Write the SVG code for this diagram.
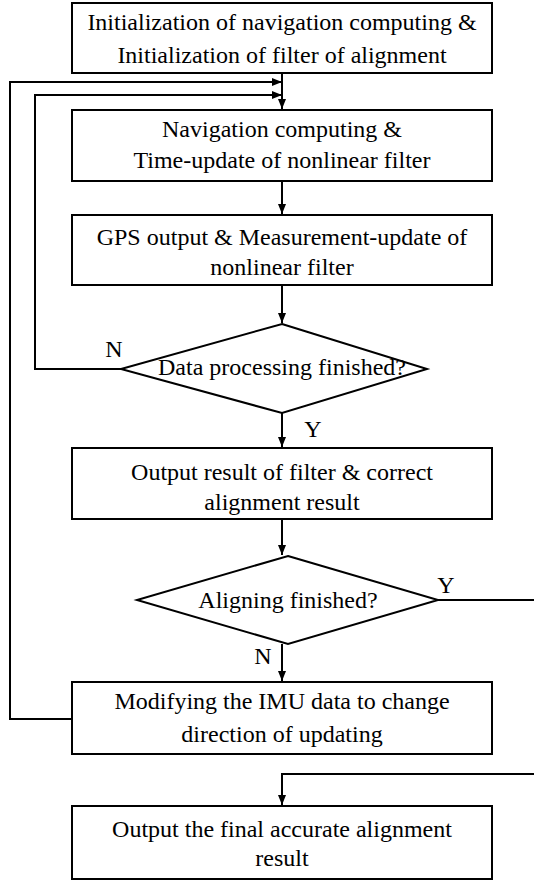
<svg xmlns="http://www.w3.org/2000/svg" width="534" height="881" viewBox="0 0 534 881">
<style>
.b{fill:#fff;stroke:#000;stroke-width:2}
.c{fill:none;stroke:#000;stroke-width:2}
.t{font-family:'Liberation Serif','Times New Roman','DejaVu Serif',serif;font-size:24px;fill:#000;text-anchor:middle}
</style>
<defs>
<marker id="a" viewBox="0 0 10 10" refX="10" refY="5" markerWidth="10" markerHeight="10" markerUnits="userSpaceOnUse" orient="auto">
<path d="M0,1 L10,5 L0,9 Z" fill="#000"/>
</marker>
</defs>
<g id="connectors">
<path class="c" d="M282,73 V109" marker-end="url(#a)"/>
<path class="c" d="M72,719 H10 V82 H282" marker-end="url(#a)"/>
<path class="c" d="M121,369 H35 V95 H282" marker-end="url(#a)"/>
<path class="c" d="M282,181 V214" marker-end="url(#a)"/>
<path class="c" d="M282,285 V323" marker-end="url(#a)"/>
<path class="c" d="M282,413 V447" marker-end="url(#a)"/>
<path class="c" d="M282,519 V555" marker-end="url(#a)"/>
<path class="c" d="M282,644 V681" marker-end="url(#a)"/>
<path class="c" d="M438,600 H534"/>
<path class="c" d="M534,774 H282 V805" marker-end="url(#a)"/>
<text class="t" x="114" y="357">N</text>
<text class="t" x="313" y="437">Y</text>
<text class="t" x="446" y="593">Y</text>
<text class="t" x="263" y="664">N</text>
</g>
<g id="n1"><rect class="b" x="72" y="3" width="420" height="70"/>
<text class="t" x="282" y="30">Initialization of navigation computing &amp;</text>
<text class="t" x="282" y="63">Initialization of filter of alignment</text></g>
<g id="n2"><rect class="b" x="72" y="110" width="420" height="71"/>
<text class="t" x="282" y="137">Navigation computing &amp;</text>
<text class="t" x="282" y="168">Time-update of nonlinear filter</text></g>
<g id="n3"><rect class="b" x="72" y="215" width="420" height="70"/>
<text class="t" x="282" y="245">GPS output &amp; Measurement-update of</text>
<text class="t" x="282" y="275">nonlinear filter</text></g>
<g id="n4"><polygon class="b" points="282,324 427,369 282,413 121,369"/>
<text class="t" x="282" y="375">Data processing finished?</text></g>
<g id="n5"><rect class="b" x="72" y="448" width="420" height="71"/>
<text class="t" x="282" y="480">Output result of filter &amp; correct</text>
<text class="t" x="282" y="510">alignment result</text></g>
<g id="n6"><polygon class="b" points="288,556 438,600 288,644 137,600"/>
<text class="t" x="288" y="608">Aligning finished?</text></g>
<g id="n7"><rect class="b" x="72" y="682" width="420" height="72"/>
<text class="t" x="282" y="709">Modifying the IMU data to change</text>
<text class="t" x="282" y="742">direction of updating</text></g>
<g id="n8"><rect class="b" x="72" y="806" width="420" height="73"/>
<text class="t" x="282" y="837">Output the final accurate alignment</text>
<text class="t" x="282" y="866">result</text></g>
</svg>
